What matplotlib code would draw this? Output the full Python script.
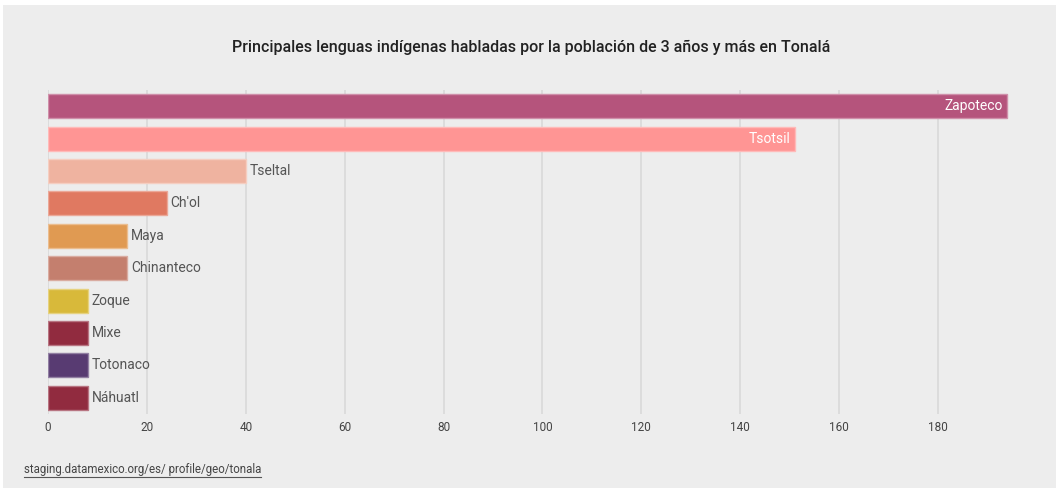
import matplotlib
matplotlib.use("Agg")
import matplotlib.pyplot as plt
from matplotlib.patches import Rectangle
from matplotlib.lines import Line2D
import matplotlib.colors as mcolors
import numpy as np

title = "Principales lenguas indígenas habladas por la población de 3 años y más en Tonalá"
languages = ["Zapoteco", "Tsotsil", "Tseltal", "Ch'ol", "Maya", "Chinanteco",
             "Zoque", "Mixe", "Totonaco", "Náhuatl"]
values = [194, 151, 40, 24, 16, 16, 8, 8, 8, 8]
colors = ["#b5547c", "#ff9594", "#efb3a0", "#e07961", "#e09a52", "#c47f6e",
          "#d8b93a", "#912b3f", "#583b72", "#912b3f"]
xticks = [0, 20, 40, 60, 80, 100, 120, 140, 160, 180]
source = "staging.datamexico.org/es/ profile/geo/tonala"

plt.rcParams['font.family'] = ['Roboto', 'DejaVu Sans']

W, H = 1061, 491
fig = plt.figure(figsize=(W / 100, H / 100), dpi=100, facecolor="white")
fig.patches.append(Rectangle((3 / W, 3 / H), (1056 - 3) / W, (486 - 3) / H,
                             transform=fig.transFigure, facecolor="#ededed",
                             edgecolor="none", zorder=-10))

px_per_unit = (938 - 48) / 180
xmax = 195
left = 48 / W
right = (48 + xmax * px_per_unit) / W
top = 1 - 90 / H
bottom = 1 - 414 / H
ax = fig.add_axes([left, bottom, right - left, top - bottom])
ax.set_facecolor("none")

ypos = np.arange(len(languages))


def lighten(c, amt=0.35):
    r, g, b = mcolors.to_rgb(c)
    return (r + (1 - r) * amt, g + (1 - g) * amt, b + (1 - b) * amt)


ax.barh(ypos, values, height=0.74, color=colors,
        edgecolor=[lighten(c) for c in colors], linewidth=1.0, zorder=3)

for y, v, name in zip(ypos, values, languages):
    if v > 100:
        ax.text(v - 0.8, y, name, ha="right", va="center", color="white",
                fontsize=10, zorder=4)
    else:
        ax.text(v + 0.8, y, name, ha="left", va="center", color="#555555",
                fontsize=10, zorder=4)

ax.set_xlim(0, xmax)
ax.set_ylim(len(languages) - 0.5, -0.5)
ax.set_xticks(xticks)
ax.set_xticklabels([str(t) for t in xticks])
ax.set_yticks([])
ax.grid(axis="x", color="#d9d9d9", linewidth=1.2, zorder=0)
for s in ax.spines.values():
    s.set_visible(False)
ax.tick_params(axis="x", length=0, pad=5, labelsize=8.5, labelcolor="#444444")

fig.text(531 / W, 1 - 47 / H, title, ha="center", va="center",
         fontsize=11.5, color="#222222", fontweight="medium")

src = fig.text(24 / W, 1 - 470 / H, source, ha="left", va="center",
               fontsize=8.3, color="#444444")
fig.canvas.draw()
bb = src.get_window_extent()
fig.lines.append(Line2D([bb.x0 / W, bb.x1 / W], [(bb.y0 - 0.5) / H, (bb.y0 - 0.5) / H],
                        transform=fig.transFigure, color="#555555", linewidth=0.8))

fig.savefig("out.png", dpi=100, facecolor=fig.get_facecolor())
